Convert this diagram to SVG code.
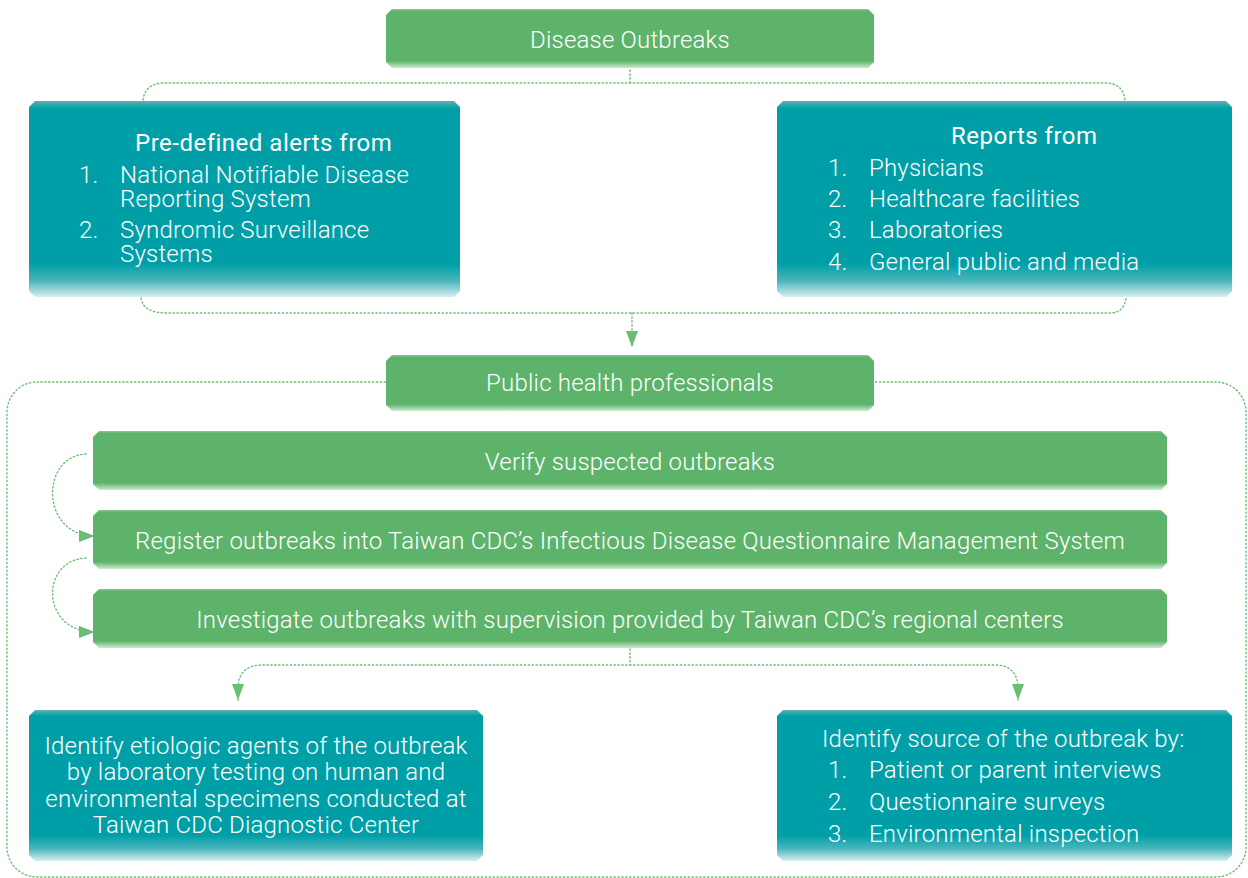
<svg xmlns="http://www.w3.org/2000/svg" width="1248" height="878" viewBox="0 0 1248 878">
<defs>
<linearGradient id="gGreen" x1="0" y1="0" x2="0" y2="1">
<stop offset="0" stop-color="#8cc994"/>
<stop offset="0.04" stop-color="#5db36a"/>
<stop offset="0.88" stop-color="#5db36a"/>
<stop offset="1" stop-color="#cfe9d2"/>
</linearGradient>
<linearGradient id="gTeal" x1="0" y1="0" x2="0" y2="1">
<stop offset="0" stop-color="#5fb1b6"/>
<stop offset="0.04" stop-color="#009fa7"/>
<stop offset="0.83" stop-color="#009fa7"/>
<stop offset="0.92" stop-color="#4db6bc"/>
<stop offset="1" stop-color="#d9eff0"/>
</linearGradient>
<marker id="arr" viewBox="0 0 16 12" refX="16" refY="6" markerWidth="16" markerHeight="12" markerUnits="userSpaceOnUse" orient="auto-start-reverse">
<path d="M0,0 L16,6 L0,12 Z" fill="#6cbd74"/>
</marker>
<style>
.g{fill:url(#gGreen)}
.t{fill:url(#gTeal)}
.c{fill:none;stroke:#6cbd74;stroke-width:1.4;stroke-dasharray:1.3 2.6;stroke-linecap:round}
text{font-family:Roboto,"Liberation Sans",sans-serif;font-weight:300;fill:#ffffff;font-size:24px;letter-spacing:0.2px}
.h{font-weight:400;letter-spacing:0.5px}
.m{text-anchor:middle}
</style>
</defs>

<g id="connectors">
<rect class="c" x="7" y="382" width="1239" height="495" rx="30"/>
<path class="c" d="M630,70 V83"/>
<path class="c" d="M143,100 Q145,83 165,83 H1105 Q1123,83 1125,100"/>
<path class="c" d="M141,298 Q143,313 167,313 H1110 Q1124,313 1126,298"/>
<path class="c" d="M632,313 V347" marker-end="url(#arr)"/>
<path class="c" d="M86,454 C40,456 40,536 95,536" marker-end="url(#arr)"/>
<path class="c" d="M86,558 C40,560 40,632 95,632" marker-end="url(#arr)"/>
<path class="c" d="M630,649 V665"/>
<path class="c" d="M238,700 V686 Q240,665 262,665 H995 Q1016,665 1018,686 V700" marker-start="url(#arr)" marker-end="url(#arr)"/>
</g>

<g id="n-disease">
<polygon class="g" points="392,9 868,9 874,15 874,62 868,68 392,68 386,62 386,15"/>
<text class="m" x="630" y="48">Disease Outbreaks</text>
</g>

<g id="n-alerts">
<polygon class="t" points="35,101 454,101 460,107 460,291 454,297 35,297 29,291 29,107"/>
<text class="h" x="135" y="151">Pre-defined alerts from</text>
<text x="79" y="183">1.</text>
<text x="120" y="183">National Notifiable Disease</text>
<text x="120" y="207">Reporting System</text>
<text x="79" y="238">2.</text>
<text x="120" y="238">Syndromic Surveillance</text>
<text x="120" y="262">Systems</text>
</g>

<g id="n-reports">
<polygon class="t" points="783,101 1226,101 1232,107 1232,291 1226,297 783,297 777,291 777,107"/>
<text class="h" x="951" y="144">Reports from</text>
<text x="828" y="176">1.</text>
<text x="869" y="176">Physicians</text>
<text x="828" y="207">2.</text>
<text x="869" y="207">Healthcare facilities</text>
<text x="828" y="238">3.</text>
<text x="869" y="238">Laboratories</text>
<text x="828" y="270">4.</text>
<text x="869" y="270">General public and media</text>
</g>

<g id="n-php">
<polygon class="g" points="392,355 868,355 874,361 874,405 868,411 392,411 386,405 386,361"/>
<text class="m" x="630" y="391">Public health professionals</text>
</g>

<g id="n-verify">
<polygon class="g" points="99,431 1161,431 1167,437 1167,484 1161,490 99,490 93,484 93,437"/>
<text class="m" x="630" y="470">Verify suspected outbreaks</text>
</g>

<g id="n-register">
<polygon class="g" points="99,510 1161,510 1167,516 1167,563 1161,569 99,569 93,563 93,516"/>
<text class="m" x="630" y="549">Register outbreaks into Taiwan CDC’s Infectious Disease Questionnaire Management System</text>
</g>

<g id="n-investigate">
<polygon class="g" points="99,589 1161,589 1167,595 1167,642 1161,648 99,648 93,642 93,595"/>
<text class="m" x="630" y="628">Investigate outbreaks with supervision provided by Taiwan CDC’s regional centers</text>
</g>

<g id="n-etiologic">
<polygon class="t" points="35,710 477,710 483,716 483,855 477,861 35,861 29,855 29,716"/>
<text class="m" x="256" y="754">Identify etiologic agents of the outbreak</text>
<text class="m" x="256" y="780">by laboratory testing on human and</text>
<text class="m" x="256" y="807">environmental specimens conducted at</text>
<text class="m" x="256" y="833">Taiwan CDC Diagnostic Center</text>
</g>

<g id="n-source">
<polygon class="t" points="783,710 1226,710 1232,716 1232,855 1226,861 783,861 777,855 777,716"/>
<text x="822" y="747">Identify source of the outbreak by:</text>
<text x="828" y="778">1.</text>
<text x="869" y="778">Patient or parent interviews</text>
<text x="828" y="810">2.</text>
<text x="869" y="810">Questionnaire surveys</text>
<text x="828" y="842">3.</text>
<text x="869" y="842">Environmental inspection</text>
</g>
</svg>
